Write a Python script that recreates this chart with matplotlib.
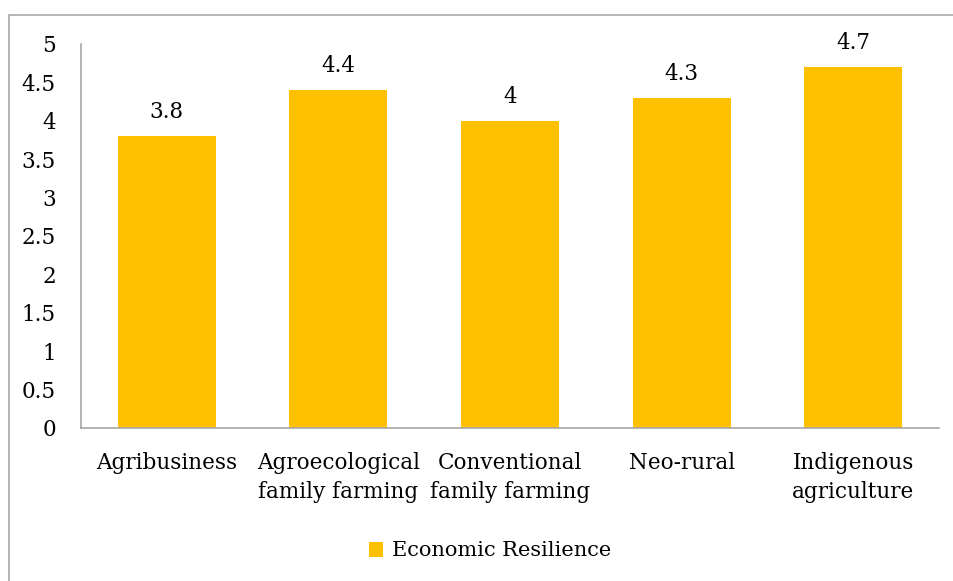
import matplotlib
matplotlib.use("Agg")
import matplotlib.pyplot as plt
from matplotlib.lines import Line2D
from matplotlib.patches import Patch

categories = ["Agribusiness", "Agroecological\nfamily farming", "Conventional\nfamily farming",
              "Neo-rural", "Indigenous\nagriculture"]
values = [3.8, 4.4, 4.0, 4.3, 4.7]
value_labels = ["3.8", "4.4", "4", "4.3", "4.7"]
yticks = [0, 0.5, 1, 1.5, 2, 2.5, 3, 3.5, 4, 4.5, 5]
ytick_labels = ["0", "0.5", "1", "1.5", "2", "2.5", "3", "3.5", "4", "4.5", "5"]
series_name = "Economic Resilience"

plt.rcParams['font.family'] = ['DejaVu Serif']
FS = 15.5
W, H = 954, 581
fig = plt.figure(figsize=(W/100, H/100), dpi=100)
ax = fig.add_axes([81/W, 1-428/H, (939-81)/W, (428-44)/H])

x = list(range(len(categories)))
bars = ax.bar(x, values, width=0.57, color="#FFC000", zorder=2)
ax.set_xlim(-0.5, len(categories)-0.5)
ax.set_ylim(0, 5)
ax.set_yticks(yticks)
ax.set_yticklabels(ytick_labels, fontsize=FS)
ax.set_xticks(x)
ax.set_xticklabels(categories, fontsize=FS, linespacing=1.45)
ax.tick_params(axis='y', length=0, pad=18, colors='#000000')
ax.tick_params(axis='x', length=0, pad=17, colors='#000000')
for s in ['top', 'right']:
    ax.spines[s].set_visible(False)
for s in ['left', 'bottom']:
    ax.spines[s].set_color('#a6a6a6')
    ax.spines[s].set_linewidth(1.2)

for xi, v, t in zip(x, values, value_labels):
    ax.annotate(t, (xi, v), xytext=(0, 13), textcoords='offset points',
                ha='center', va='baseline', fontsize=FS)

handle = Patch(facecolor="#FFC000", edgecolor='none')
fig.legend([handle], [series_name], loc='center', bbox_to_anchor=(490/W, 1-551/H),
           frameon=False, fontsize=15, handlelength=0.7, handleheight=0.7,
           handletextpad=0.4)

# outer border (top and left)
fig.add_artist(Line2D([9/W, 9/W], [0, 1-15/H], color='#b0b0b0', lw=1.3, transform=fig.transFigure))
fig.add_artist(Line2D([9/W, 1], [1-15/H, 1-15/H], color='#b0b0b0', lw=1.3, transform=fig.transFigure))

fig.savefig("out.png", dpi=100)
